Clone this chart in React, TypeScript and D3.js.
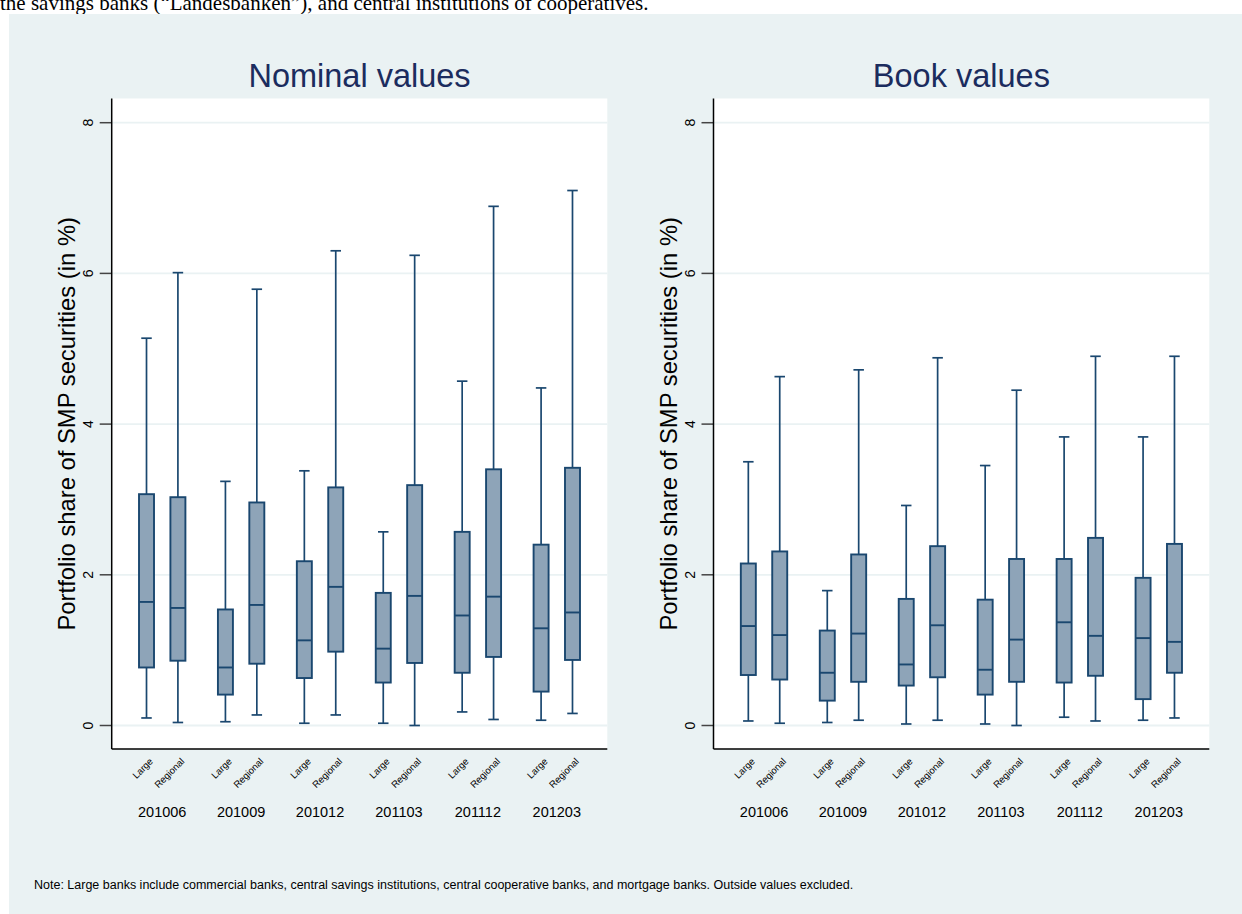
import React from "react";
import * as d3 from "d3";

// ---- Data ----
const periods = ["201006", "201009", "201012", "201103", "201112", "201203"];
const bankTypes = ["Large", "Regional"];
const yTicks = [0, 2, 4, 6, 8];

// order: for each period -> Large, Regional
const nominalHigh = [5.14, 6.01, 3.24, 5.79, 3.38, 6.3, 2.57, 6.24, 4.57, 6.89, 4.48, 7.1];
const nominalQ3 = [3.07, 3.03, 1.54, 2.96, 2.18, 3.16, 1.76, 3.19, 2.57, 3.4, 2.4, 3.42];
const nominalMedian = [1.64, 1.56, 0.77, 1.6, 1.13, 1.84, 1.02, 1.72, 1.46, 1.71, 1.29, 1.5];
const nominalQ1 = [0.77, 0.86, 0.41, 0.82, 0.63, 0.98, 0.57, 0.83, 0.7, 0.91, 0.45, 0.87];
const nominalLow = [0.1, 0.04, 0.05, 0.14, 0.03, 0.14, 0.03, 0.0, 0.18, 0.08, 0.07, 0.16];

const bookHigh = [3.5, 4.63, 1.79, 4.72, 2.92, 4.88, 3.45, 4.45, 3.83, 4.9, 3.83, 4.9];
const bookQ3 = [2.15, 2.31, 1.26, 2.27, 1.68, 2.38, 1.67, 2.21, 2.21, 2.49, 1.96, 2.41];
const bookMedian = [1.32, 1.2, 0.7, 1.22, 0.81, 1.33, 0.74, 1.14, 1.37, 1.19, 1.16, 1.11];
const bookQ1 = [0.67, 0.61, 0.33, 0.58, 0.53, 0.64, 0.41, 0.58, 0.57, 0.66, 0.35, 0.7];
const bookLow = [0.06, 0.03, 0.04, 0.07, 0.02, 0.07, 0.02, 0.0, 0.11, 0.06, 0.07, 0.1];

const panelTitles = ["Nominal values", "Book values"];
const yAxisTitle = "Portfolio share of SMP securities (in %)";
const noteText =
  "Note: Large banks include commercial banks, central savings institutions, central cooperative banks, and mortgage banks. Outside values excluded.";
const topText = "the savings banks (\u201CLandesbanken\u201D), and central institutions of cooperatives.";

// ---- Styles ----
const FONT = "'Liberation Sans', Arial, Helvetica, sans-serif";
const BG = "#eaf2f3";
const NAVY = "#1a476f";
const FILL = "#8ea4b8";
const TITLE_COLOR = "#1b2c5e";

type BoxStat = { period: string; type: string; lo: number; q1: number; med: number; q3: number; hi: number };

function buildStats(lo: number[], q1: number[], med: number[], q3: number[], hi: number[]): BoxStat[] {
  const out: BoxStat[] = [];
  periods.forEach((p, i) => {
    bankTypes.forEach((t, j) => {
      const k = i * bankTypes.length + j;
      out.push({ period: p, type: t, lo: lo[k], q1: q1[k], med: med[k], q3: q3[k], hi: hi[k] });
    });
  });
  return out;
}

const nominalStats = buildStats(nominalLow, nominalQ1, nominalMedian, nominalQ3, nominalHigh);
const bookStats = buildStats(bookLow, bookQ1, bookMedian, bookQ3, bookHigh);

const PLOT_TOP = 98.5;
const PLOT_BOTTOM = 749;

function Panel({ x0, x1, title, stats }: { x0: number; x1: number; title: string; stats: BoxStat[] }) {
  const y = d3.scaleLinear().domain([0, 8]).range([725.5, 122.7]);
  const group = d3.scaleBand<string>().domain(periods).range([x0, x1]).paddingInner(0).paddingOuter(0.14);
  const sub = d3.scalePoint<string>().domain(bankTypes).range([-15.7, 15.7]);
  const boxW = 15;
  const capW = 10.5;
  const cx = (x0 + x1) / 2;

  return (
    <g>
      <rect x={x0} y={PLOT_TOP} width={x1 - x0} height={PLOT_BOTTOM - PLOT_TOP} fill="#ffffff" />
      {yTicks.map((t) => (
        <line key={"g" + t} x1={x0} x2={x1} y1={y(t)} y2={y(t)} stroke={BG} strokeWidth={1.8} />
      ))}
      {/* title */}
      <text x={cx} y={87} textAnchor="middle" fontFamily={FONT} fontSize={32.5} fill={TITLE_COLOR}>
        {title}
      </text>
      {/* y axis title */}
      <text
        transform={`translate(${x0 - 45},${(PLOT_TOP + PLOT_BOTTOM) / 2}) rotate(-90)`}
        textAnchor="middle"
        dominantBaseline="central"
        fontFamily={FONT}
        fontSize={23.8}
        fill="#000"
      >
        {yAxisTitle}
      </text>
      {/* y ticks */}
      {yTicks.map((t) => (
        <g key={"t" + t}>
          <line x1={x0 - 12} x2={x0} y1={y(t)} y2={y(t)} stroke="#444" strokeWidth={1.5} />
          <text
            transform={`translate(${x0 - 24},${y(t)}) rotate(-90)`}
            textAnchor="middle"
            dominantBaseline="central"
            fontFamily={FONT}
            fontSize={14}
            fill="#000"
          >
            {t}
          </text>
        </g>
      ))}
      {/* boxes */}
      {stats.map((s, i) => {
        const gx = (group(s.period) as number) + group.bandwidth() / 2 + (sub(s.type) as number);
        return (
          <g key={"b" + i}>
            <line x1={gx} x2={gx} y1={y(s.hi)} y2={y(s.q3)} stroke={NAVY} strokeWidth={1.7} />
            <line x1={gx} x2={gx} y1={y(s.q1)} y2={y(s.lo)} stroke={NAVY} strokeWidth={1.7} />
            <line x1={gx - capW / 2} x2={gx + capW / 2} y1={y(s.hi)} y2={y(s.hi)} stroke={NAVY} strokeWidth={1.7} />
            <line x1={gx - capW / 2} x2={gx + capW / 2} y1={y(s.lo)} y2={y(s.lo)} stroke={NAVY} strokeWidth={1.7} />
            <rect
              x={gx - boxW / 2}
              y={y(s.q3)}
              width={boxW}
              height={y(s.q1) - y(s.q3)}
              fill={FILL}
              stroke={NAVY}
              strokeWidth={1.9}
            />
            <line x1={gx - boxW / 2} x2={gx + boxW / 2} y1={y(s.med)} y2={y(s.med)} stroke={NAVY} strokeWidth={1.9} />
            <text
              transform={`translate(${gx + 2},${PLOT_BOTTOM + 8}) rotate(-45)`}
              textAnchor="end"
              dominantBaseline="hanging"
              fontFamily={FONT}
              fontSize={9.5}
              fill="#000"
            >
              {s.type}
            </text>
          </g>
        );
      })}
      {/* group labels */}
      {periods.map((p) => (
        <text
          key={"p" + p}
          x={(group(p) as number) + group.bandwidth() / 2}
          y={816.5}
          textAnchor="middle"
          fontFamily={FONT}
          fontSize={14.5}
          fill="#000"
        >
          {p}
        </text>
      ))}
      {/* axis lines */}
      <line x1={x0} x2={x0} y1={PLOT_TOP} y2={PLOT_BOTTOM} stroke="#000" strokeWidth={1.5} />
      <line x1={x0} x2={x1} y1={PLOT_BOTTOM} y2={PLOT_BOTTOM} stroke="#000" strokeWidth={1.5} />
    </g>
  );
}

export default function App() {
  return (
    <svg
      width={1242}
      height={914}
      style={{ position: "absolute", left: 0, top: 0, background: "#ffffff" }}
    >
      <rect x={0} y={0} width={1242} height={914} fill="#ffffff" />
      <text x={0} y={10} fontFamily="'Liberation Serif', 'Times New Roman', serif" fontSize={21} fill="#000">
        {topText}
      </text>
      <rect x={9} y={14} width={1242 - 9} height={914 - 14} fill={BG} />
      <Panel x0={111.7} x1={607.3} title={panelTitles[0]} stats={nominalStats} />
      <Panel x0={713.5} x1={1209.3} title={panelTitles[1]} stats={bookStats} />
      <text x={34} y={889} fontFamily={FONT} fontSize={12.5} fill="#000">
        {noteText}
      </text>
    </svg>
  );
}
